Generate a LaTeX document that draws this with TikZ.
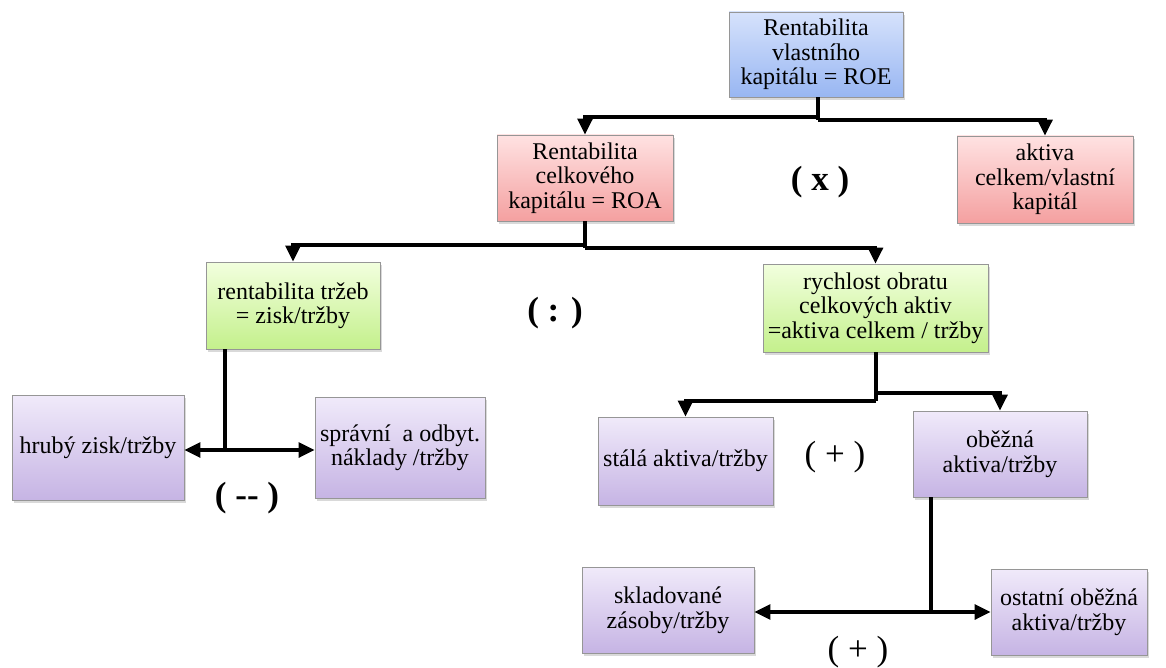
\documentclass[tikz,border=0pt]{standalone}
\usepackage{fontspec}
\setmainfont{LiberationSerif}[Extension=.ttf, UprightFont=*-Regular, BoldFont=*-Bold, ItalicFont=*-Italic, BoldItalicFont=*-BoldItalic]
\usetikzlibrary{arrows.meta,shadows}

\definecolor{blueTop}{RGB}{214,226,252}
\definecolor{blueBot}{RGB}{152,182,242}
\definecolor{pinkTop}{RGB}{255,226,226}
\definecolor{pinkBot}{RGB}{244,160,160}
\definecolor{greenTop}{RGB}{242,255,222}
\definecolor{greenBot}{RGB}{196,240,140}
\definecolor{lilacTop}{RGB}{240,234,250}
\definecolor{lilacBot}{RGB}{198,180,228}
\definecolor{edge}{RGB}{150,150,150}

\tikzset{
  box/.style={draw=edge, line width=0.9pt, rectangle, align=center,
    inner sep=2pt, font=\rmfamily\fontsize{24}{24.5}\selectfont,
    drop shadow={opacity=0.3, shadow xshift=2pt, shadow yshift=-3pt}},
  bluebox/.style={box, top color=blueTop, bottom color=blueBot},
  pinkbox/.style={box, top color=pinkTop, bottom color=pinkBot},
  greenbox/.style={box, top color=greenTop, bottom color=greenBot},
  lilacbox/.style={box, top color=lilacTop, bottom color=lilacBot},
  arr/.style={line width=3.2pt, -{Triangle[length=16pt,width=15pt]}},
  link/.style={line width=3.2pt},
  oplabel/.style={font=\rmfamily\fontsize{35}{38}\selectfont},
  opbold/.style={font=\rmfamily\bfseries\fontsize{35}{38}\selectfont},
}

\begin{document}
\begin{tikzpicture}[x=1pt, y=-1pt]
\useasboundingbox (0,0) rectangle (1166,668);

% boxes
\node[bluebox,  minimum width=174pt, minimum height=85pt] (roe) at (816,54.5) {Rentabilita\\vlastního\\kapitálu = ROE};
\node[pinkbox,  minimum width=176pt, minimum height=86pt] (roa) at (585,178) {Rentabilita\\celkového\\kapitálu = ROA};
\node[pinkbox,  minimum width=176pt, minimum height=87pt] (akt) at (1045,179.5) {aktiva\\celkem/vlastní\\kapitál};
\node[greenbox, minimum width=174pt, minimum height=87pt] (rt)  at (293,305.5) {rentabilita tržeb\\= zisk/tržby};
\node[greenbox, minimum width=225pt, minimum height=88pt] (ro)  at (875.5,308) {rychlost obratu\\celkových aktiv\\=aktiva celkem / tržby};
\node[lilacbox, minimum width=172pt, minimum height=105pt] (hz) at (98,447.5) {hrubý zisk/tržby};
\node[lilacbox, minimum width=170pt, minimum height=101pt] (sp) at (400,447.5) {správní~ a odbyt.\\náklady /tržby};
\node[lilacbox, minimum width=175pt, minimum height=88pt] (st)  at (685.5,461) {stálá aktiva/tržby};
\node[lilacbox, minimum width=174pt, minimum height=86pt] (ob)  at (1000,454) {oběžná\\aktiva/tržby};
\node[lilacbox, minimum width=172pt, minimum height=86pt] (sk)  at (668,610) {skladované\\zásoby/tržby};
\node[lilacbox, minimum width=156pt, minimum height=86pt] (os)  at (1069,612) {ostatní oběžná\\aktiva/tržby};

% junction points of the connectors
\coordinate (jA) at (818,117);
\coordinate (jB) at (818,120);
\coordinate (jC) at (585,245);
\coordinate (jD) at (585,248);
\coordinate (jE) at (225,450);
\coordinate (jF) at (876,401);
\coordinate (jG) at (876,393);
\coordinate (jH) at (931,612);

% connectors
\draw[link] (roe.south -| jB) -- (jB);
\draw[arr] (jA) -| (roa.north);
\draw[arr] (jB) -| (akt.north);

\draw[link] (roa.south -| jD) -- (jD);
\draw[arr] (jC) -| (rt.north);
\draw[arr] (jD) -| (ro.north);

\draw[link] (rt.south -| jE) -- (jE);
\draw[arr] (jE) -- (hz.east |- jE);
\draw[arr] (jE) -- (sp.west |- jE);

\draw[link] (ro.south -| jF) -- (jF);
\draw[arr] (jF) -| (st.north);
\draw[arr] (jG) -| (ob.north);

\draw[link] (ob.south -| jH) -- (jH);
\draw[arr] (jH) -- (sk.east |- jH);
\draw[arr] (jH) -- (os.west |- jH);

% operators
\node[opbold]  (opx) at (820,182) {( x )};
\node[opbold]  (opd) at (555,313) {( : )};
\node[opbold]  (opm) at (247,498) {( -{}- )};
\node[oplabel] (opp) at (835,457) {( + )};
\node[oplabel] (opq) at (858,652) {( + )};
\end{tikzpicture}
\end{document}
